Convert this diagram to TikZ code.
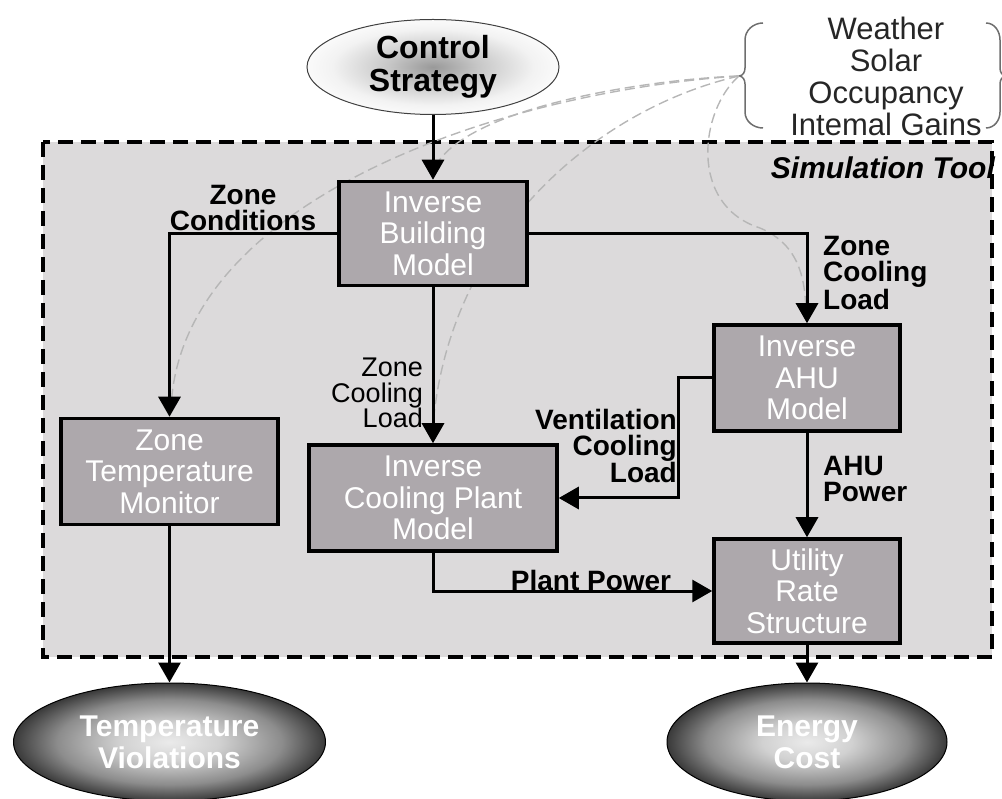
\documentclass[tikz,border=0pt]{standalone}
\usepackage{fontspec}
\setmainfont{Liberation Sans}
\usetikzlibrary{shapes.geometric,arrows.meta}
\definecolor{bggray}{HTML}{DCDADB}
\definecolor{boxgray}{HTML}{ADA8AC}
\definecolor{curvegray}{HTML}{B6B6B6}
\definecolor{bracegray}{HTML}{6E6E6E}
\pgfdeclareradialshading{darkball}{\pgfpoint{0bp}{0bp}}{color(0bp)=(black!8); color(8bp)=(black!18); color(18bp)=(black!45); color(26bp)=(black!82); color(33bp)=(black); color(50bp)=(black)}
\pgfdeclareradialshading{lightball}{\pgfpoint{0bp}{0bp}}{color(0bp)=(black!40); color(9bp)=(black!22); color(20bp)=(black!5); color(28bp)=(white); color(50bp)=(white)}
\begin{document}
\begin{tikzpicture}[x=1pt,y=-1pt,
  box/.style={draw=black,line width=3.5pt,fill=boxgray,text=white,align=center,inner sep=0pt,font=\fontsize{30}{31.5}\selectfont},
  conn/.style={line width=3pt,-{Triangle[width=22pt,length=20pt]}},
  lbl/.style={inner sep=0pt,text=black,font=\fontsize{28}{26}\selectfont\bfseries},
  envcurve/.style={draw=curvegray,line width=1.4pt,dash pattern=on 10pt off 5pt},
  result/.style={ellipse,draw=black,line width=1pt,shading=darkball,text=white,align=center,inner sep=0pt,font=\fontsize{30}{32}\selectfont\bfseries},
  bracestyle/.style={draw=bracegray,line width=1.5pt}
]
\useasboundingbox (0,0) rectangle (1002,799);

% simulation tool frame
\draw[line width=3.5pt,dash pattern=on 15pt off 8pt,fill=bggray] (43,142) rectangle (992,657);

% environmental inputs
\node[inner sep=0pt,align=center,text=black!85,font=\fontsize{31}{32}\selectfont] (env) at (886,76) {Weather\\Solar\\Occupancy\\Intemal Gains};
\draw[bracestyle] (763,23) to[out=180,in=90] (745,40) -- (745,68) to[out=-90,in=0] (739,76) to[out=0,in=90] (745,84) -- (745,112) to[out=-90,in=180] (763,128);
\draw[bracestyle] (986,23) to[out=0,in=90] (1000,40) -- (1000,68) to[out=-90,in=180] (1006,76) to[out=180,in=90] (1000,84) -- (1000,112) to[out=-90,in=0] (986,128);
\coordinate (tip) at (739,76);
\coordinate (eztm) at (171,408);
\coordinate (eicpm) at (433,425);
\coordinate (eibm) at (436,165);
\coordinate (eahu) at (806,318);
\coordinate (ebend) at (760,228);

\draw[envcurve] (tip) .. controls (500,92) and (180,200) .. (eztm);
\draw[envcurve] (tip) .. controls (600,108) and (450,230) .. (eicpm);
\draw[envcurve] (tip) .. controls (640,80) and (470,108) .. (eibm);
\draw[envcurve] (tip) .. controls (700,110) and (688,205) .. (ebend) .. controls (800,245) and (806,280) .. (eahu);

\node[anchor=east,inner sep=0pt,font=\fontsize{30}{32}\selectfont\bfseries\itshape] (simtool) at (995,168) {Simulation Tool};

% nodes
\node[ellipse,draw=black!75,line width=1pt,shading=lightball,minimum width=252pt,minimum height=95pt,inner sep=0pt,align=center,font=\fontsize{32}{33}\selectfont\bfseries] (cs) at (433,67) {Control\\Strategy};

\node[box,minimum width=188pt,minimum height=104pt] (ibm) at (433,233.5) {Inverse\\Building\\Model};
\node[box,minimum width=217pt,minimum height=106pt] (ztm) at (169.5,471.5) {Zone\\Temperature\\Monitor};
\node[box,minimum width=248pt,minimum height=106pt] (icpm) at (433,498) {Inverse\\Cooling Plant\\Model};
\node[box,minimum width=186pt,minimum height=106pt] (ahu) at (807,378) {Inverse\\AHU\\Model};
\node[box,minimum width=186pt,minimum height=104pt] (util) at (807,591) {Utility\\Rate\\Structure};

\node[result,minimum width=312pt,minimum height=118pt] (tv) at (169.5,742) {Temperature\\Violations};
\node[result,minimum width=280pt,minimum height=118pt] (ec) at (807,742) {Energy\\Cost};

% connectors
\draw[conn] (cs.south) -- (ibm.north);
\draw[conn] (ibm.west) -| (ztm.north);
\draw[conn] (ibm.south) -- (icpm.north);
\draw[conn] (ibm.east) -| (ahu.north);
\draw[conn] (ahu.west) -- ++(-34,0) |- (icpm.east);
\draw[conn] (ahu.south) -- (util.north);
\draw[conn] (icpm.south) |- (util.west);
\draw[conn] (ztm.south) -- (tv.north);
\draw[conn] (util.south) -- (ec.north);

% labels
\node[lbl,align=center] (lzc) at (243,208) {Zone\\Conditions};
\node[lbl,anchor=east,align=right,font=\fontsize{27}{25.5}\selectfont] (lzcl1) at (423,393) {Zone\\Cooling\\Load};
\node[lbl,anchor=west,align=left] (lzcl2) at (823,273) {Zone\\Cooling\\Load};
\node[lbl,anchor=east,align=right] (lvcl) at (677,446) {Ventilation\\Cooling\\Load};
\node[lbl,anchor=west,align=left] (lahu) at (823,479) {AHU\\Power};
\node[lbl] (lpp) at (591,580) {Plant Power};
\end{tikzpicture}
\end{document}
